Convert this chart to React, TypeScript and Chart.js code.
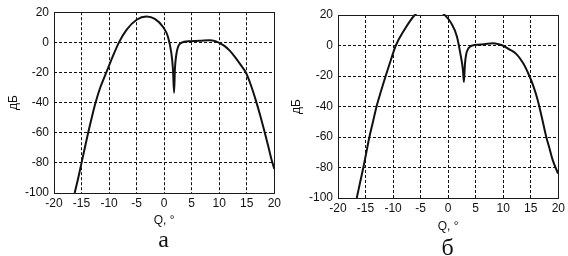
import React, { useEffect, useRef } from "react";
import { Chart, registerables } from "chart.js";

Chart.register(...registerables);

// Panel "а"
const angleA = [-16.25, -15.6, -15.0, -14.4, -13.8, -13.15, -12.45, -11.6, -10.5, -9.4, -8.2, -6.8, -5.0, -3.2, -1.7, -0.2, 0.7, 1.3, 1.6, 1.8, 1.95, 2.3, 3.1, 4.6, 6.5, 8.2, 9.3, 10.0, 11.0, 11.9, 12.8, 13.8, 14.9, 15.8, 16.6, 17.4, 18.2, 18.9, 19.5, 20.0];
const gainA = [-100, -90, -80, -70, -60, -50, -40, -30, -20, -10, 0, 8.4, 15, 17.2, 15.6, 10.2, 3.6, -7, -18, -33.5, -18, -6.2, -0.3, 0.8, 1.0, 1.4, 0.8, -0.3, -2.5, -5.5, -9.5, -14.5, -20.5, -29, -38, -48, -59, -69, -78, -84];

// Panel "б"
const angleB = [-16.6, -16.0, -15.4, -14.85, -14.3, -13.65, -13.0, -12.2, -11.35, -10.45, -9.5, -8.0, -6.06, -4.6, -3.3, -2.0, -0.63, 0.58, 1.6, 2.2, 2.68, 2.86, 3.05, 3.5, 4.8, 6.5, 8.1, 9.0, 9.9, 11.1, 12.35, 13.6, 14.75, 15.5, 16.25, 17.0, 17.8, 18.4, 18.97, 19.95];
const gainB = [-100, -90, -80, -70, -60, -50, -40, -30, -20, -10, 0, 10, 20, 23.6, 24.8, 23.6, 20, 14.5, 5.8, -5, -16, -24, -12, -3, 0.3, 0.8, 1.4, 1.0, 0, -2.5, -5.5, -11.5, -20, -27, -35.7, -47, -59.8, -67.5, -75, -84];

const xTickValues = [-20, -15, -10, -5, 0, 5, 10, 15, 20];
const yTickValues = [-100, -80, -60, -40, -20, 0, 20];
const xTitle = "Q, °";
const yTitle = "дБ";
const panelLabels = ["а", "б"];

const CANVAS_W = 284;
const CANVAS_H = 256;
const SANS = "'Liberation Sans', Arial, sans-serif";

const framePlugin = {
  id: "frame",
  afterDraw(chart: any) {
    const { ctx, chartArea: a } = chart;
    ctx.save();
    ctx.setLineDash([]);
    ctx.strokeStyle = "#1a1a1a";
    ctx.lineWidth = 1;
    ctx.strokeRect(Math.round(a.left) + 0.5, Math.round(a.top) + 0.5, Math.round(a.right - a.left), Math.round(a.bottom - a.top));
    ctx.restore();
  },
};

type PanelProps = {
  angles: number[];
  gains: number[];
  left: number;
  areaTop: number;
  areaBottom: number;
  yTitlePad: number;
  xTitlePad: number;
  label: string;
  labelTop: number;
  labelCenter: number;
};

function Panel(p: PanelProps) {
  const ref = useRef<HTMLCanvasElement | null>(null);
  useEffect(() => {
    if (!ref.current) return;
    const data = p.angles.map((x, i) => ({ x, y: p.gains[i] }));
    const tickFont = { family: SANS, size: 12 };
    const chart = new Chart(ref.current, {
      type: "line",
      data: {
        datasets: [
          {
            data,
            borderColor: "#111",
            borderWidth: 2,
            pointRadius: 0,
            fill: false,
            cubicInterpolationMode: "monotone",
            clip: 1,
          } as any,
        ],
      },
      options: {
        animation: false,
        responsive: false,
        devicePixelRatio: 1,
        layout: { padding: { left: 0, right: CANVAS_W - 275, top: p.areaTop, bottom: 0 } },
        plugins: { legend: { display: false }, tooltip: { enabled: false } },
        scales: {
          x: {
            type: "linear",
            min: -20,
            max: 20,
            afterBuildTicks: (s: any) => {
              s.ticks = xTickValues.map((v) => ({ value: v }));
            },
            afterFit: (s: any) => {
              s.height = CANVAS_H - p.areaBottom;
            },
            ticks: { font: tickFont, color: "#111", padding: 3, maxRotation: 0, autoSkip: false },
            grid: { color: "#111", lineWidth: 1, drawTicks: false },
            border: { display: false, dash: [3, 2] },
            title: {
              display: true,
              text: xTitle,
              font: tickFont,
              color: "#111",
              padding: { top: 0, bottom: p.xTitlePad },
            },
          },
          y: {
            type: "linear",
            min: -100,
            max: 20,
            afterBuildTicks: (s: any) => {
              s.ticks = yTickValues.map((v) => ({ value: v }));
            },
            afterFit: (s: any) => {
              s.width = 54;
            },
            ticks: { font: tickFont, color: "#111", padding: 5, autoSkip: false },
            grid: { color: "#111", lineWidth: 1, drawTicks: false },
            border: { display: false, dash: [3, 2] },
            title: {
              display: true,
              text: yTitle,
              font: tickFont,
              color: "#111",
              padding: { top: p.yTitlePad, bottom: 0 },
            },
          },
        },
      },
      plugins: [framePlugin],
    });
    return () => chart.destroy();
  }, []);

  return (
    <>
      <canvas
        ref={ref}
        width={CANVAS_W}
        height={CANVAS_H}
        style={{ position: "absolute", left: p.left, top: 0, width: CANVAS_W, height: CANVAS_H, display: "block" }}
      />
      <div
        style={{
          position: "absolute",
          left: p.labelCenter - 20,
          width: 40,
          top: p.labelTop,
          textAlign: "center",
          fontFamily: "'Liberation Serif', 'Times New Roman', serif",
          fontSize: 24,
          lineHeight: "24px",
          color: "#111",
        }}
      >
        {p.label}
      </div>
    </>
  );
}

export default function App() {
  return (
    <div style={{ position: "absolute", left: 0, top: 0, width: 568, height: 256, background: "#fff", overflow: "hidden" }}>
      <Panel
        angles={angleA}
        gains={gainA}
        left={0}
        areaTop={10}
        areaBottom={193}
        yTitlePad={6}
        xTitlePad={28}
        label={panelLabels[0]}
        labelTop={227}
        labelCenter={163.5}
      />
      <Panel
        angles={angleB}
        gains={gainB}
        left={284}
        areaTop={15}
        areaBottom={198}
        yTitlePad={5}
        xTitlePad={22}
        label={panelLabels[1]}
        labelTop={235}
        labelCenter={447.5}
      />
    </div>
  );
}
